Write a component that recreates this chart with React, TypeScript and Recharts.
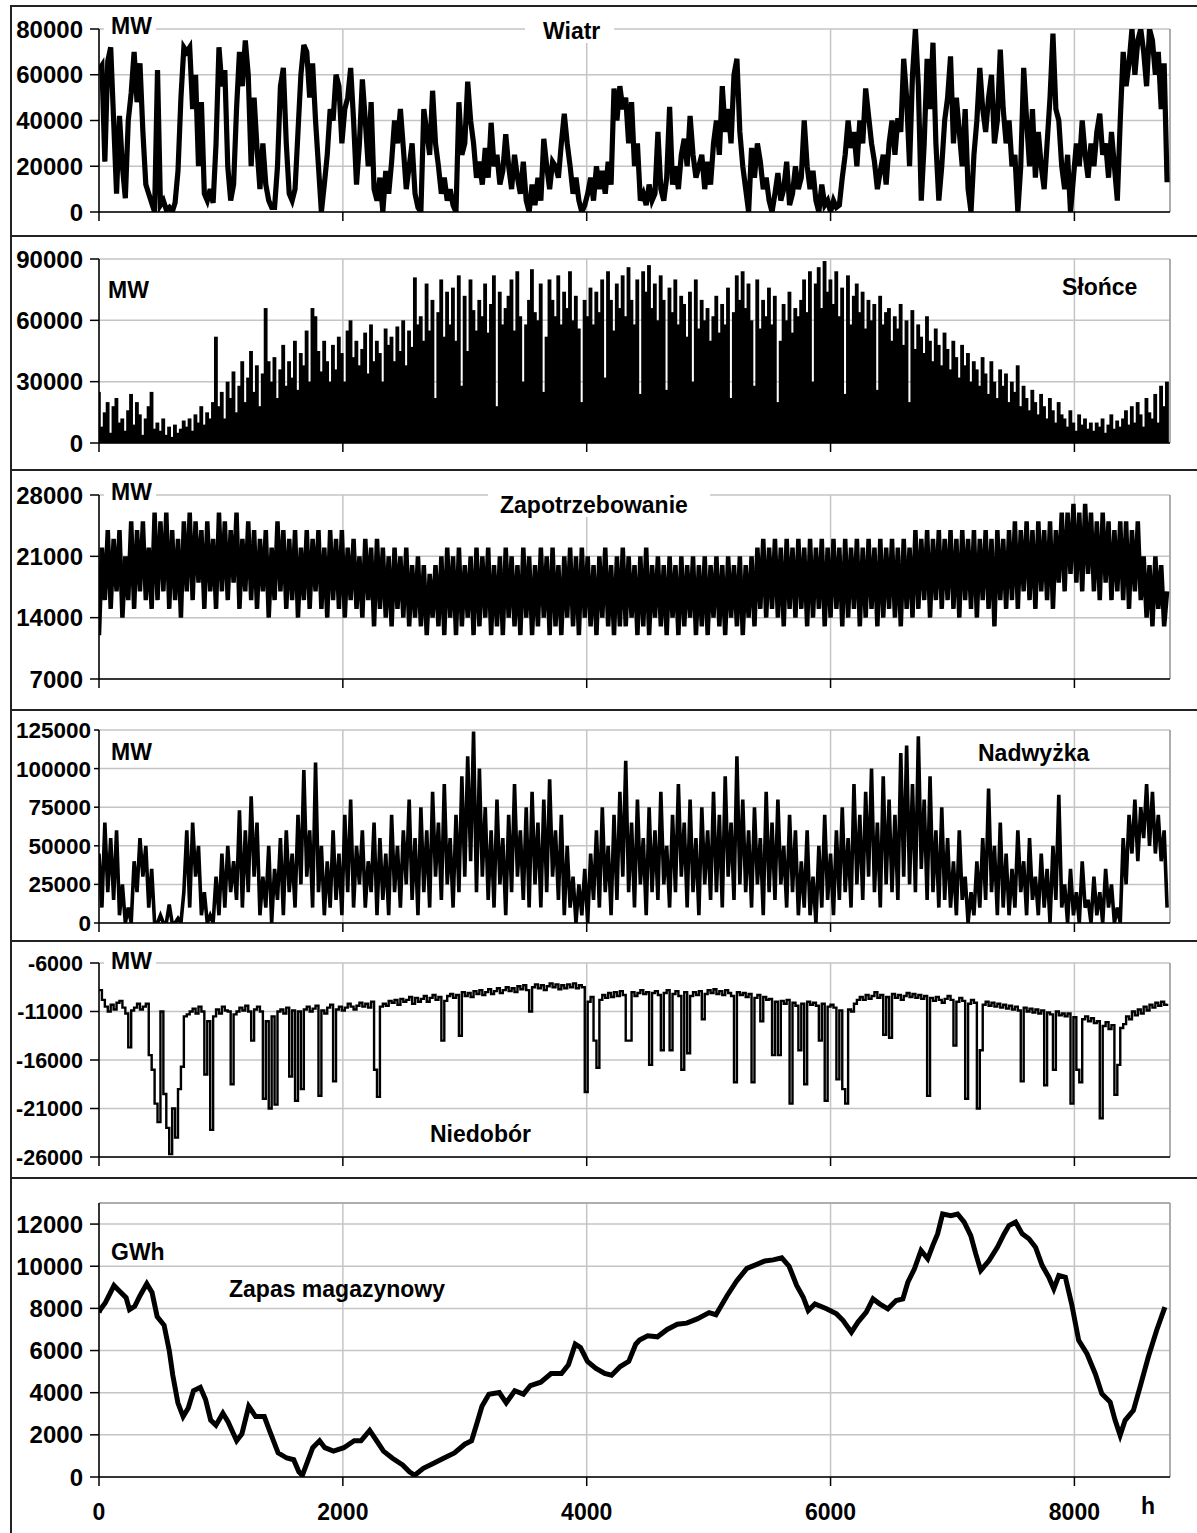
import React from "react"
import {
  ComposedChart,
  Line,
  Bar,
  XAxis,
  YAxis,
  CartesianGrid,
  ReferenceLine,
} from "recharts"

const STEP_H = 24
const YEAR_H = 8784
const hourTicks = [0, 2000, 4000, 6000, 8000]

// one reading per day (every 24 h), values in thousands of MW
const windGw = [
  62, 64, 22, 66, 72, 40, 8, 42, 20, 6,
  40, 52, 70, 48, 65, 35, 12, 8, 4, 0,
  62, 3, 5, 1, 2, 0, 4, 18, 50, 72,
  70, 72, 45, 60, 20, 48, 8, 5, 10, 4,
  30, 72, 55, 62, 20, 5, 12, 45, 70, 55,
  75, 60, 20, 50, 28, 10, 30, 12, 5, 2,
  2, 20, 55, 63, 30, 8, 5, 10, 35, 60,
  73, 70, 50, 65, 40, 20, 0, 12, 25, 45,
  40, 60, 55, 30, 45, 50, 63, 40, 12, 30,
  58, 40, 20, 48, 10, 5, 15, 0, 18, 8,
  22, 40, 30, 45, 28, 10, 20, 30, 8, 2,
  0, 45, 35, 25, 53, 30, 20, 8, 15, 5,
  10, 3, 0, 48, 25, 30, 57, 40, 30, 15,
  22, 12, 28, 15, 39, 20, 25, 12, 18, 34,
  20, 10, 25, 15, 8, 22, 5, 0, 12, 3,
  15, 5, 32, 20, 10, 22, 20, 15, 30, 43,
  30, 20, 8, 15, 5, 0, 3, 8, 15, 5,
  20, 10, 18, 8, 22, 12, 54, 40, 55, 45,
  50, 30, 48, 20, 30, 5, 8, 3, 12, 5,
  8, 35, 10, 5, 15, 46, 12, 20, 10, 25,
  32, 20, 42, 25, 15, 20, 25, 10, 22, 12,
  30, 40, 25, 55, 35, 45, 30, 60, 67, 35,
  20, 10, 0, 28, 15, 30, 22, 10, 15, 5,
  0, 8, 17, 5, 10, 22, 3, 8, 20, 10,
  15, 40, 20, 10, 18, 5, 0, 12, 3, 5,
  0, 5, 2, 3, 15, 25, 40, 28, 35, 20,
  40, 30, 54, 42, 30, 22, 10, 18, 25, 12,
  30, 40, 25, 41, 35, 67, 50, 20, 60, 80,
  55, 5, 30, 67, 45, 74, 30, 5, 20, 40,
  50, 68, 30, 50, 35, 20, 45, 10, 0, 25,
  40, 63, 45, 35, 50, 60, 30, 40, 71, 45,
  30, 40, 20, 25, 0, 20, 63, 40, 20, 45,
  15, 35, 20, 10, 30, 50, 78, 45, 40, 20,
  10, 25, 0, 15, 30, 20, 40, 25, 15, 30,
  20, 35, 43, 25, 30, 15, 35, 20, 5, 40,
  70, 55, 65, 80, 60, 75, 80, 70, 55, 80,
  75, 60, 70, 45, 65, 13,
]

// daily peak of solar output
const sunGw = [
  25, 8, 15, 20, 5, 18, 22, 10, 12, 6,
  16, 24, 9, 20, 14, 4, 12, 18, 25, 7,
  10, 6, 12, 4, 8, 3, 9, 5, 7, 11,
  8, 12, 6, 14, 10, 18, 9, 15, 12, 20,
  52, 18, 25, 12, 30, 22, 35, 15, 28, 40,
  20, 32, 45, 25, 38, 18, 34, 66, 40, 30,
  42, 22, 36, 48, 28, 40, 32, 50, 26, 44,
  38, 55, 30, 66, 62, 45, 35, 50, 40, 30,
  48, 36, 52, 44, 30, 55, 60, 42, 50, 38,
  46, 54, 34, 58, 40, 50, 44, 30, 56, 48,
  52, 40, 57, 45, 60, 38, 55, 47, 81, 58,
  62, 50, 78, 55, 70, 22, 64, 80, 52, 74,
  58, 76, 50, 82, 28, 72, 45, 80, 65, 55,
  70, 62, 78, 54, 68, 82, 18, 74, 58, 66,
  72, 80, 55, 84, 62, 30, 58, 70, 85, 64,
  60, 78, 25, 52, 80, 70, 62, 82, 58, 74,
  66, 84, 60, 72, 56, 20, 70, 62, 76, 58,
  74, 64, 80, 32, 84, 70, 55, 78, 66, 82,
  62, 86, 70, 58, 80, 24, 84, 74, 87, 66,
  78, 60, 82, 70, 26, 76, 64, 80, 58, 72,
  68, 52, 74, 30, 80, 56, 70, 60, 66, 50,
  62, 72, 54, 68, 58, 76, 22, 64, 82, 70,
  84, 66, 78, 60, 28, 80, 56, 70, 62, 76,
  58, 72, 20, 50, 68, 60, 74, 54, 66, 62,
  70, 80, 64, 84, 30, 78, 86, 66, 89, 74,
  80, 68, 84, 62, 76, 24, 82, 58, 72, 78,
  64, 74, 56, 70, 60, 68, 26, 72, 58, 64,
  66, 50, 62, 56, 68, 48, 60, 20, 65, 46,
  58, 52, 44, 62, 50, 40, 56, 48, 38, 54,
  46, 36, 50, 42, 32, 48, 38, 44, 30, 40,
  36, 28, 42, 34, 24, 40, 30, 22, 36, 28,
  34, 20, 30, 25, 38, 18, 28, 22, 16, 26,
  20, 14, 24, 18, 12, 22, 16, 10, 20, 14,
  12, 8, 16, 10, 6, 14, 9, 12, 7, 10,
  6, 10, 8, 12, 5, 9, 14, 7, 11, 8,
  12, 16, 9, 18, 10, 20, 14, 8, 22, 15,
  12, 24, 10, 28, 18, 30,
]

const demandGw = [
  12, 22, 16, 24, 15, 23, 17, 24, 14, 21,
  16, 25, 15, 24, 17, 25, 16, 22, 15, 26,
  16, 25, 17, 26, 15, 24, 16, 23, 14, 25,
  17, 26, 16, 25, 18, 24, 15, 25, 17, 23,
  15, 26, 17, 25, 16, 24, 18, 26, 15, 23,
  17, 25, 16, 24, 15, 23, 17, 24, 14, 22,
  16, 25, 17, 24, 15, 23, 16, 24, 14, 22,
  16, 24, 15, 23, 17, 24, 15, 22, 14, 24,
  16, 23, 15, 24, 14, 22, 16, 23, 15, 21,
  14, 23, 16, 22, 13, 23, 15, 22, 14, 21,
  13, 22, 15, 21, 14, 22, 13, 20, 14, 21,
  13, 20, 12, 19, 14, 20, 13, 21, 12, 22,
  14, 21, 12, 22, 13, 20, 14, 21, 12, 22,
  13, 21, 14, 22, 12, 20, 13, 21, 12, 22,
  14, 21, 13, 20, 12, 22, 14, 21, 12, 20,
  13, 22, 14, 21, 12, 22, 13, 20, 12, 21,
  14, 22, 13, 21, 12, 22, 14, 21, 13, 20,
  12, 21, 14, 22, 13, 20, 12, 21, 13, 22,
  13, 21, 14, 20, 12, 21, 13, 22, 12, 20,
  14, 21, 13, 20, 12, 21, 14, 20, 12, 21,
  13, 20, 14, 21, 12, 20, 13, 21, 12, 20,
  14, 21, 13, 20, 12, 21, 14, 20, 13, 21,
  12, 20, 14, 21, 13, 22, 15, 23, 14, 22,
  15, 23, 14, 22, 13, 23, 15, 22, 14, 23,
  15, 22, 13, 23, 14, 22, 15, 23, 13, 22,
  14, 23, 15, 22, 13, 23, 14, 22, 15, 23,
  13, 22, 14, 23, 15, 22, 13, 23, 14, 22,
  15, 23, 14, 22, 13, 23, 15, 22, 14, 24,
  15, 23, 16, 24, 14, 23, 16, 24, 15, 23,
  16, 24, 15, 23, 14, 24, 16, 23, 15, 24,
  14, 23, 16, 24, 15, 23, 13, 24, 16, 23,
  15, 24, 16, 25, 15, 24, 17, 25, 16, 24,
  15, 25, 17, 24, 16, 25, 15, 24, 18, 26,
  17, 26, 19, 27, 18, 26, 17, 27, 19, 26,
  17, 25, 16, 26, 18, 25, 16, 24, 17, 25,
  16, 25, 15, 24, 17, 25, 16, 21, 14, 20,
  13, 21, 15, 20, 13, 17,
]

const surplusGw = [
  45, 10, 65, 20, 55, 15, 60, 5, 25, 0,
  10, 0, 40, 20, 55, 30, 50, 10, 35, 0,
  0, 5, 0, 0, 12, 0, 0, 3, 0, 20,
  60, 10, 65, 30, 50, 5, 20, 0, 5, 0,
  30, 5, 45, 10, 50, 20, 40, 15, 73, 10,
  60, 20, 82, 30, 65, 5, 30, 10, 50, 0,
  35, 15, 55, 5, 60, 20, 45, 10, 70, 25,
  99, 30, 60, 10, 104, 20, 50, 5, 40, 10,
  60, 15, 45, 5, 70, 20, 80, 10, 50, 25,
  60, 10, 40, 20, 65, 5, 55, 15, 45, 5,
  70, 20, 50, 10, 60, 25, 80, 15, 55, 5,
  75, 20, 60, 10, 85, 30, 65, 15, 90, 25,
  55, 10, 70, 20, 95, 30, 108, 40, 124, 20,
  100, 30, 75, 15, 60, 10, 80, 25, 55, 5,
  70, 20, 90, 30, 60, 15, 75, 10, 85, 25,
  65, 10, 80, 20, 93, 30, 60, 15, 70, 5,
  50, 10, 30, 0, 25, 5, 35, 0, 45, 15,
  60, 10, 75, 20, 50, 5, 70, 15, 85, 30,
  105, 20, 65, 10, 80, 25, 55, 5, 75, 20,
  60, 15, 85, 25, 50, 10, 70, 20, 90, 30,
  65, 10, 80, 20, 55, 5, 75, 25, 60, 15,
  85, 20, 70, 10, 95, 30, 65, 15, 108, 25,
  80, 20, 60, 10, 75, 25, 55, 5, 85, 20,
  65, 15, 80, 25, 50, 10, 70, 20, 60, 5,
  40, 10, 60, 5, 30, 0, 50, 10, 70, 15,
  45, 5, 60, 15, 75, 20, 55, 10, 90, 25,
  70, 15, 85, 30, 100, 20, 65, 10, 95, 25,
  80, 20, 70, 15, 110, 30, 115, 25, 90, 20,
  121, 35, 80, 15, 95, 20, 60, 10, 75, 15,
  55, 10, 40, 5, 60, 15, 30, 0, 20, 5,
  40, 10, 55, 15, 87, 20, 50, 5, 65, 10,
  45, 5, 35, 10, 60, 20, 40, 5, 55, 15,
  30, 5, 45, 10, 35, 0, 50, 15, 83, 10,
  25, 0, 35, 5, 20, 0, 40, 10, 15, 0,
  30, 5, 20, 0, 35, 10, 25, 0, 10, 0,
  55, 25, 70, 45, 80, 40, 75, 55, 90, 50,
  85, 45, 70, 40, 60, 10,
]

const deficitGw = [
  -8.8, -9.8, -10.5, -11, -10.3, -10.8, -10.1, -9.9, -10.6, -11.2,
  -14.7, -10.9, -10.6, -10.2, -10.8, -10.5, -10.2, -15.5, -17, -20.5,
  -22.4, -11, -19.5, -23, -25.7, -21, -24, -19, -16.7, -11.5,
  -11.3, -11, -10.7, -11.2, -10.5, -11, -17.5, -12, -23.2, -11.5,
  -10.8, -11.2, -10.5, -10.9, -11, -18.5, -11.3, -11, -10.6, -10.9,
  -10.4, -11, -14, -10.8, -10.5, -11, -20, -12, -21, -11.5,
  -20.6, -11, -10.8, -11.2, -10.6, -17.7, -10.9, -20.2, -11, -19,
  -10.8, -10.5, -11, -10.7, -10.4, -19.7, -10.9, -11.2, -10.6, -10.3,
  -18.2, -10.8, -10.5, -10.9, -10.6, -10.2, -10.5, -10.8, -10.4, -10.1,
  -10.5, -10.2, -10.6, -10, -17, -19.8, -10.5, -10.2, -10.4, -9.9,
  -10.1, -9.8, -10.3, -9.7, -10, -9.8, -9.5, -10.2, -9.6, -10,
  -9.7, -9.4, -10, -9.6, -9.3, -9.8, -9.5, -14, -9.9, -9.4,
  -9.2, -9.6, -9.3, -13.5, -9, -9.4, -9.1, -9.5, -8.9, -9.2,
  -8.8, -9.3, -9, -8.7, -9.2, -8.9, -8.6, -9.1, -8.8, -8.5,
  -8.9, -8.6, -9, -8.4, -8.7, -8.3, -8.8, -11, -8.5, -8.2,
  -8.6, -8.3, -8.8, -8.4, -8.1, -8.5, -8.2, -8.7, -8.3, -8.6,
  -8.2, -8.5, -8.1, -8.6, -8.3, -8.5, -19.3, -10, -9.5, -14,
  -16.8, -9.8, -9.3, -9.6, -9.1, -9.5, -9, -9.4, -8.9, -9.3,
  -14, -14, -9, -9.4, -9.1, -8.8, -9.2, -9, -16.5, -9.1,
  -8.9, -9.3, -15, -9.1, -8.8, -15, -9.2, -8.9, -9.4, -17,
  -9, -15.3, -9.4, -9, -9.3, -8.9, -11.8, -9.2, -8.8, -9.1,
  -8.7, -9.2, -8.9, -9.3, -8.8, -9.1, -9.4, -18.3, -9, -9.3,
  -9.1, -9.5, -9.2, -18.3, -9.6, -9.3, -12, -9.5, -9.8, -9.7,
  -15.5, -10, -15.5, -9.9, -10.2, -9.8, -20.5, -10.1, -10.4, -15,
  -10.2, -18.5, -10, -10.3, -10.1, -10.4, -14, -10.2, -20.2, -10.5,
  -10.3, -10.6, -18, -10.9, -19, -20.5, -10.8, -11, -10.2, -9.8,
  -9.5, -9.8, -9.3, -9.7, -9.4, -9, -9.6, -9.3, -13.4, -9.5,
  -13.7, -9.2, -9.6, -9.3, -9.8, -9.4, -9.1, -9.5, -9.2, -9.6,
  -9.3, -9.7, -9.4, -19.7, -9.6, -9.9, -9.5, -9.8, -10.1, -9.7,
  -9.4, -9.8, -14.5, -10, -9.6, -9.9, -20, -10.2, -9.8, -10.1,
  -21, -15, -10.3, -10, -10.4, -10.1, -10.5, -10.2, -10.6, -10.3,
  -10.7, -10.4, -10.8, -10.5, -10.9, -18.2, -10.6, -11, -10.7, -11.1,
  -10.8, -11.2, -10.9, -18.6, -11.1, -11.3, -17, -11, -11.4, -11.2,
  -11.5, -11.2, -20.5, -11.6, -17, -18.3, -11.8, -11.5, -12, -11.7,
  -12.2, -12, -22, -12.5, -12.1, -12.8, -12.4, -19.6, -16.5, -12.7,
  -12.3, -11.5, -11.8, -11, -11.4, -10.8, -11.2, -10.5, -10.9, -10.3,
  -10.6, -10.1, -10.4, -10, -10.3, -10.2,
]

// storage level, GWh, read at the turning points of the curve
const storageHours = [
  0, 10, 52, 123, 165, 222, 250, 293, 336, 392, 435, 477, 534, 577, 605, 647,
  690, 732, 775, 831, 874, 916, 959, 1016, 1058, 1129, 1172, 1228, 1285, 1356,
  1398, 1469, 1540, 1597, 1639, 1668, 1710, 1753, 1809, 1852, 1923, 2008, 2093,
  2149, 2220, 2277, 2333, 2404, 2490, 2546, 2589, 2660, 2745, 2830, 2915, 3000,
  3056, 3099, 3141, 3198, 3283, 3340, 3410, 3481, 3538, 3623, 3708, 3793, 3850,
  3906, 3949, 4006, 4076, 4147, 4204, 4275, 4345, 4402, 4433, 4500, 4580, 4660,
  4743, 4820, 4906, 5004, 5060, 5151, 5230, 5314, 5400, 5461, 5530, 5600, 5660,
  5722, 5776, 5817, 5872, 5967, 6049, 6103, 6171, 6225, 6293, 6348, 6402, 6470,
  6538, 6593, 6634, 6688, 6742, 6797, 6838, 6878, 6919, 6987, 7042, 7096, 7150,
  7191, 7232, 7300, 7368, 7423, 7463, 7518, 7572, 7627, 7681, 7736, 7790, 7831,
  7872, 7926, 7980, 8035, 8103, 8171, 8225, 8293, 8334, 8375, 8416, 8484, 8538,
  8606, 8674, 8742,
]

const storageGwh = [
  7800, 7940, 8270, 9085, 8840, 8510, 7940, 8100, 8600, 9170, 8760, 7610, 7200,
  5975, 4830, 3520, 2865, 3270, 4090, 4255, 3680, 2700, 2455, 3030, 2620, 1720,
  2045, 3355, 2865, 2865, 2210, 1145, 900, 820, 245, 80, 735, 1390, 1720, 1390,
  1230, 1390, 1720, 1720, 2210, 1720, 1230, 900, 575, 245, 80, 410, 655, 900,
  1145, 1555, 1720, 2540, 3355, 3930, 4010, 3520, 4090, 3930, 4340, 4500, 4910,
  4910, 5320, 6300, 6140, 5485, 5155, 4910, 4830, 5240, 5485, 6300, 6500, 6700,
  6650, 7000, 7250, 7300, 7500, 7800, 7700, 8600, 9300, 9900, 10100, 10250,
  10300, 10400, 10000, 9085, 8530, 7900, 8215, 7980, 7740, 7425, 6870, 7350,
  7820, 8450, 8215, 7980, 8375, 8450, 9240, 9875, 10745, 10350, 10980, 11535,
  12480, 12400, 12480, 12090, 11455, 10585, 9800, 10270, 10900, 11535, 11930,
  12090, 11535, 11300, 10900, 10030, 9480, 8930, 9560, 9480, 8140, 6480, 5850,
  4900, 3950, 3555, 2690, 1975, 2690, 3160, 4265, 5690, 6950, 8060,
]

const windTicks = [0, 20, 40, 60, 80]
const sunTicks = [0, 30, 60, 90]
const demandTicks = [7, 14, 21, 28]
const surplusTicks = [0, 25, 50, 75, 100, 125]
const deficitTicks = [-26, -21, -16, -11, -6]
const storageTicks = [0, 2000, 4000, 6000, 8000, 10000, 12000]

const daily = (values: number[]) => values.map((v, i) => ({ h: i * STEP_H, v }))
const storageData = storageHours.map((h, i) => ({ h, v: storageGwh[i] }))

const FONT = '"Liberation Sans", Arial, Helvetica, sans-serif'
const W = 1197
const PLOT_RIGHT = 1170

const tickStyle = (size: number) => ({ fill: "#000", fontSize: size, fontWeight: 700, fontFamily: FONT })

// bars a touch wider than their slot so neighbouring days merge into one black mass
const SunBar = (p: any) => (
  <rect x={p.x - 0.6} y={p.y} width={p.width + 1.2} height={Math.max(p.height, 0)} fill="#000" />
)

type PanelProps = {
  top: number
  bottom: number
  plotTop: number
  plotBottom: number
  data: { h: number; v: number }[]
  domain: [number, number]
  ticks: number[]
  inThousands?: boolean
  bars?: boolean
  strokeWidth?: number
  step?: boolean
  last?: boolean
  font?: number
  yTickSize?: number
  yTickMargin?: number
}

function Panel({
  top, bottom, plotTop, plotBottom, data, domain, ticks,
  inThousands = true, bars, strokeWidth = 2, step, last,
  font = 24, yTickSize = 9, yTickMargin = 7,
}: PanelProps) {
  const xh = last ? bottom - plotBottom : 10
  return (
    <div style={{ position: "absolute", left: 0, top }}>
      <ComposedChart
        width={W}
        height={bottom - top}
        data={data}
        margin={{ top: plotTop - top, right: W - PLOT_RIGHT, bottom: bottom - plotBottom - xh, left: 0 }}
      >
        <CartesianGrid stroke="#c4c4c4" strokeWidth={1.5} />
        <ReferenceLine x={YEAR_H} stroke="#a0a0a0" strokeWidth={1.5} />
        {last && <ReferenceLine y={domain[1]} stroke="#a0a0a0" strokeWidth={1.5} />}
        <XAxis
          dataKey="h"
          type="number"
          domain={[0, YEAR_H]}
          ticks={hourTicks}
          interval={0}
          height={xh}
          tickSize={9}
          tickMargin={18}
          axisLine={{ stroke: "#000", strokeWidth: 1.5 }}
          tickLine={{ stroke: "#000", strokeWidth: 1.5 }}
          tick={tickStyle(23)}
          tickFormatter={(v: number) => (last ? String(v) : "")}
          allowDataOverflow
        />
        <YAxis
          type="number"
          width={99}
          domain={domain}
          ticks={ticks}
          interval={0}
          tickSize={yTickSize}
          tickMargin={yTickMargin}
          axisLine={{ stroke: "#000", strokeWidth: 1.5 }}
          tickLine={{ stroke: "#000", strokeWidth: 1.5 }}
          tick={tickStyle(font)}
          tickFormatter={(v: number) => String(inThousands ? Math.round(v * 1000) : v)}
          allowDataOverflow
        />
        {bars ? (
          <Bar dataKey="v" fill="#000" barSize={3} shape={SunBar} isAnimationActive={false} />
        ) : (
          <Line
            dataKey="v"
            type={step ? "stepAfter" : "linear"}
            stroke="#000"
            strokeWidth={strokeWidth}
            dot={false}
            isAnimationActive={false}
          />
        )}
      </ComposedChart>
    </div>
  )
}

type LabelProps = { text: string; x: number; cy: number; padL?: number; padR?: number }

function Label({ text, x, cy, padL, padR }: LabelProps) {
  const boxed = padL !== undefined
  return (
    <div
      style={{
        position: "absolute",
        left: x - (padL ?? 0),
        top: cy - 12,
        paddingLeft: padL ?? 0,
        paddingRight: padR ?? 0,
        background: boxed ? "#fff" : "transparent",
        fontFamily: FONT,
        fontWeight: 700,
        fontSize: 23,
        lineHeight: "24px",
        color: "#000",
        whiteSpace: "nowrap",
      }}
    >
      {text}
    </div>
  )
}

const separators = [235, 469, 709, 940, 1177]

export default function App() {
  return (
    <div style={{ position: "absolute", left: 0, top: 0, width: W, height: 1533, background: "#fff", overflow: "hidden" }}>
      <Panel top={6} bottom={236} plotTop={29} plotBottom={212} data={daily(windGw)}
        domain={[0, 80]} ticks={windTicks} strokeWidth={5.2} />
      <Panel top={236} bottom={470} plotTop={259} plotBottom={443} data={daily(sunGw)}
        domain={[0, 90]} ticks={sunTicks} bars />
      <Panel top={470} bottom={710} plotTop={495} plotBottom={679} data={daily(demandGw)}
        domain={[7, 28]} ticks={demandTicks} strokeWidth={4.5} />
      <Panel top={710} bottom={941} plotTop={730} plotBottom={923} data={daily(surplusGw)}
        domain={[0, 125]} ticks={surplusTicks} strokeWidth={3.6}
        font={22.5} yTickSize={5} yTickMargin={3} />
      <Panel top={941} bottom={1178} plotTop={963} plotBottom={1157} data={daily(deficitGw)}
        domain={[-26, -6]} ticks={deficitTicks} strokeWidth={2.4} step font={21.5} />
      <Panel top={1178} bottom={1533} plotTop={1203} plotBottom={1477} data={storageData}
        domain={[0, 13000]} ticks={storageTicks} inThousands={false} strokeWidth={5} last />

      <Label text="MW" x={111} cy={26} padL={7} padR={4} />
      <Label text="Wiatr" x={543} cy={31} padL={18} padR={14} />
      <Label text="MW" x={108} cy={290} />
      <Label text="Słońce" x={1062} cy={287} />
      <Label text="MW" x={111} cy={492} padL={7} padR={4} />
      <Label text="Zapotrzebowanie" x={500} cy={505} padL={12} padR={22} />
      <Label text="MW" x={111} cy={752} />
      <Label text="Nadwyżka" x={978} cy={753} />
      <Label text="MW" x={111} cy={961} padL={7} padR={4} />
      <Label text="Niedobór" x={430} cy={1134} />
      <Label text="GWh" x={111} cy={1252} />
      <Label text="Zapas magazynowy" x={229} cy={1289} />
      <Label text="h" x={1141} cy={1506} />

      <div style={{ position: "absolute", left: 10, top: 5, width: W - 10, height: 2, background: "#222" }} />
      <div style={{ position: "absolute", left: 10, top: 5, width: 2, height: 1533 - 5, background: "#222" }} />
      {separators.map((y) => (
        <div key={y} style={{ position: "absolute", left: 10, top: y, width: W - 10, height: 2, background: "#222" }} />
      ))}
    </div>
  )
}
